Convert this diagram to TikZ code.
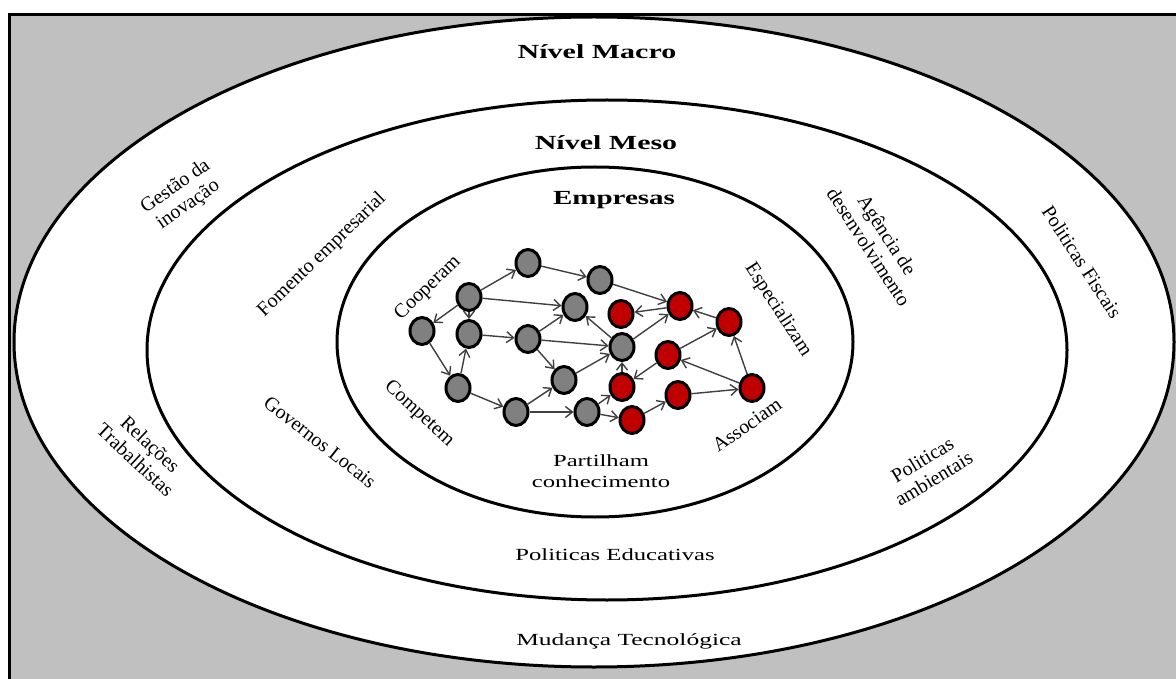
\documentclass[tikz,border=0pt]{standalone}
\usepackage{fontspec}
\usepackage{graphicx}
\setmainfont{Liberation Serif}
\usetikzlibrary{arrows.meta,shapes.geometric}
\definecolor{panel}{HTML}{C0C0C0}
\definecolor{firmgray}{HTML}{808080}
\definecolor{firmred}{HTML}{C00000}
\newcommand\wide[1]{\scalebox{1.45}[1]{#1}}
\tikzset{
  level/.style={draw=black, line width=3pt, fill=white},
  heading/.style={font=\fontsize{20}{24}\selectfont\bfseries, inner sep=0pt},
  flat/.style={font=\fontsize{17}{20}\selectfont, inner sep=0pt, align=center},
  slanted/.style={font=\fontsize{20}{22}\selectfont, inner sep=0pt, align=center},
  firm/.style={ellipse, draw=black, line width=3pt, minimum width=24pt, minimum height=27pt, inner sep=0pt},
  grayfirm/.style={firm, fill=firmgray},
  redfirm/.style={firm, fill=firmred},
  link/.style={draw=black!75, line width=1.4pt, -{Straight Barb[length=7pt,width=11pt]}}
}
\begin{document}
\begin{tikzpicture}[x=1pt, y=-1pt]
\useasboundingbox (0,0) rectangle (1176,679);
\fill[white] (0,0) rectangle (1176,679);
% grey panel with its top and left edges
\fill[panel] (9,15) rectangle (1176,679);
\draw[line width=3pt] (9,679) -- (9,15) -- (1176,15);

% three levels
\draw[level] (594,342) ellipse [x radius=580, y radius=325];
\draw[level] (607,350) ellipse [x radius=460, y radius=250];
\draw[level] (595,342) ellipse [x radius=258, y radius=175];

% headings
\node[heading] (macro) at (597,52) {\scalebox{1.5}[1]{Nível Macro}};
\node[heading] (meso) at (606,143) {\scalebox{1.5}[1]{Nível Meso}};
\node[heading] (firms) at (614,200) {\scalebox{1.45}[1]{Empresas}};

% macro level labels
\node[slanted, rotate=35] (gestao) at (182,196) {Gestão da\\inovação};
\node[slanted, rotate=-43] (relacoes) at (143,452) {Relações\\Trabalhistas};
\node[slanted, rotate=-57] (fiscais) at (1082,262) {Politicas Fiscais};
\node[slanted, rotate=31] (ambientais) at (928,469) {Politicas\\ambientais};
\node[flat] (tecno) at (629,641) {\scalebox{1.5}[1]{Mudança Tecnológica}};

% meso level labels
\node[slanted, rotate=44] (fomento) at (322,255) {Fomento empresarial};
\node[slanted, rotate=-38] (governos) at (320,442) {Governos Locais};
\node[slanted, rotate=-57] (agencia) at (878,241) {Agência de\\desenvolvimento};
\node[flat] (educ) at (615,555) {\wide{Politicas Educativas}};

% firm level labels
\node[slanted, rotate=44] (coop) at (428,288) {Cooperam};
\node[slanted, rotate=-43] (comp) at (419,414) {Competem};
\node[slanted, rotate=-57] (espec) at (778,310) {Especializam};
\node[slanted, rotate=35] (assoc) at (747,425) {Associam};
\node[flat] (partilham) at (601,471) {\wide{Partilham}\\[1pt]\wide{conhecimento}};

% firms
\node[grayfirm] (g1) at (528,263) {};
\node[grayfirm] (g2) at (600,280) {};
\node[grayfirm] (g3) at (469,297) {};
\node[grayfirm] (g4) at (575,307) {};
\node[grayfirm] (g5) at (422,331) {};
\node[grayfirm] (g6) at (469,334) {};
\node[grayfirm] (g7) at (528,339) {};
\node[grayfirm] (g8) at (622,347) {};
\node[grayfirm] (g9) at (458,388) {};
\node[grayfirm] (g10) at (564,380) {};
\node[grayfirm] (g11) at (516,412) {};
\node[grayfirm] (g12) at (587,412) {};
\node[redfirm] (r1) at (621,314) {};
\node[redfirm] (r2) at (680,306) {};
\node[redfirm] (r3) at (729,322) {};
\node[redfirm] (r4) at (668,355) {};
\node[redfirm] (r5) at (622,387) {};
\node[redfirm] (r6) at (678,395) {};
\node[redfirm] (r7) at (752,388) {};
\node[redfirm] (r8) at (632,420) {};

% relations between firms
\foreach \a/\b in {g3/g1, g1/g2, g2/r2, g3/g4, g3/g5, g3/g6, g9/g6, g5/g9,
                   g9/g11, g6/g7, g7/g4, g7/g8, g7/g10, g11/g10, g11/g12,
                   g10/g8, g8/g4, g8/r2, r2/r1, r3/r2, r4/r3, r7/r3, r7/r4,
                   r4/r5, r5/g8, g12/r5, g12/r8, r8/r6, r6/r7}
  \draw[link] (\a) -- (\b);
\end{tikzpicture}
\end{document}
